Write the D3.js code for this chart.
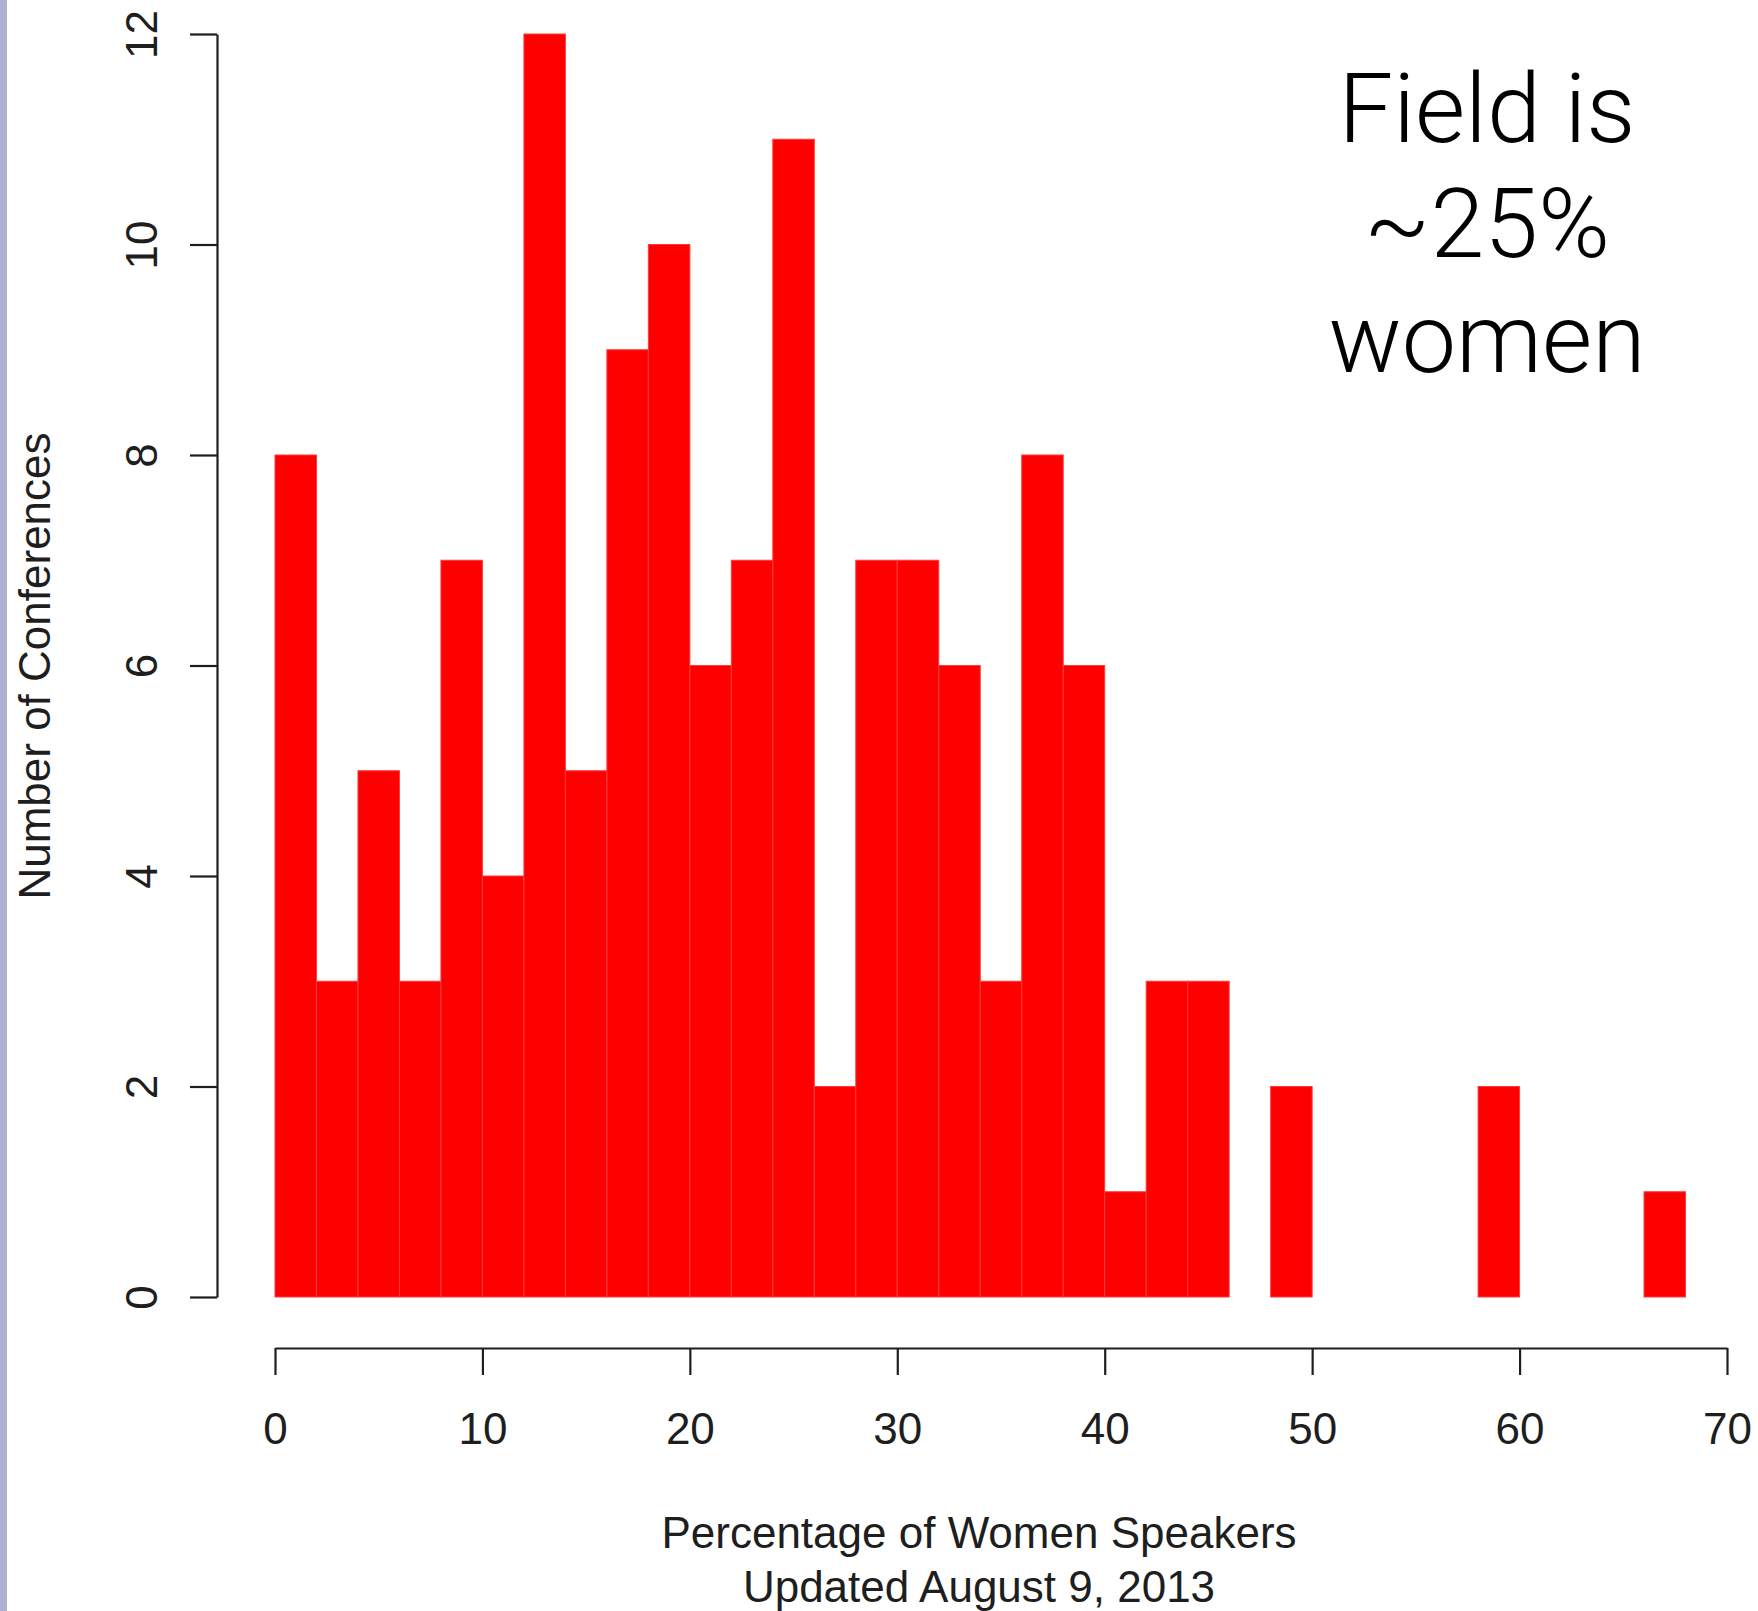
<!DOCTYPE html>
<html>
<head>
<meta charset="utf-8">
<script src="https://cdn.jsdelivr.net/npm/d3@7"></script>
<style>
  html, body { margin: 0; padding: 0; background: #fff; }
  svg { display: block; }
</style>
</head>
<body>
<svg id="chart" width="1758" height="1611"></svg>
<script>
// ---- data ----
const binStarts = [0,2,4,6,8,10,12,14,16,18,20,22,24,26,28,30,32,34,36,38,40,42,44,46,48,50,52,54,56,58,60,62,64,66];
const counts    = [8,3,5,3,7,4,12,5,9,10,6,7,11,2,7,7,6,3,8,6,1,3,3,0,2,0,0,0,0,2,0,0,0,1];
const binWidth = 2;
const xTicks = [0,10,20,30,40,50,60,70];
const yTicks = [0,2,4,6,8,10,12];
const xTitle = ["Percentage of Women Speakers", "Updated August 9, 2013"];
const yTitle = "Number of Conferences";
const note = ["Field is", "~25%", "women"];

// ---- drawing ----
const svg = d3.select("#chart");
const W = 1758, H = 1611;
svg.append("rect").attr("x",0).attr("y",0).attr("width",W).attr("height",H).attr("fill","#ffffff");
svg.append("rect").attr("x",0).attr("y",0).attr("width",7).attr("height",H).attr("fill","#adafd3");

const x = d3.scaleLinear().domain([0,70]).range([275,1727]);
const y = d3.scaleLinear().domain([0,12]).range([1297,34]);

const fontR = "'Liberation Sans', Arial, Helvetica, sans-serif";
const ink = "#1e1e1e";

// bars
const bins = binStarts.map((s,i)=>({x0:s, x1:s+binWidth, n:counts[i]})).filter(d=>d.n>0);
svg.append("g").selectAll("rect").data(bins).join("rect")
  .attr("x", d=>x(d.x0))
  .attr("y", d=>y(d.n))
  .attr("width", d=>x(d.x1)-x(d.x0))
  .attr("height", d=>y(0)-y(d.n))
  .attr("fill", "#ff0000")
  .attr("stroke", "#ff3a3a")
  .attr("stroke-width", 1);

// x axis
const gx = svg.append("g").attr("transform","translate(0,1348)")
  .call(d3.axisBottom(x).tickValues(xTicks).tickSize(27).tickSizeOuter(0).tickFormat(d3.format("d")));
gx.selectAll("path, line").attr("stroke", ink).attr("stroke-width", 2.2);
gx.selectAll("text").attr("y", 96).attr("dy", 0)
  .attr("fill", ink).style("font-family", fontR).style("font-size","44px");

// y axis
const gy = svg.append("g").attr("transform","translate(217,0)")
  .call(d3.axisLeft(y).tickValues(yTicks).tickSize(27).tickSizeOuter(0).tickFormat(d3.format("d")));
gy.selectAll("path, line").attr("stroke", ink).attr("stroke-width", 2.2);
gy.selectAll("text")
  .attr("x", 0).attr("y", 0).attr("dy", 0)
  .attr("transform", "translate(-60,0) rotate(-90)")
  .attr("text-anchor", "middle")
  .attr("fill", ink).style("font-family", fontR).style("font-size","44px");

// axis titles
svg.append("g").selectAll("text").data(xTitle).join("text")
  .attr("x", 979).attr("y", (d,i)=>1548 + i*54)
  .attr("text-anchor","middle")
  .attr("fill", ink).style("font-family", fontR).style("font-size","44px")
  .text(d=>d);

svg.append("text")
  .attr("transform","translate(50,666) rotate(-90)")
  .attr("text-anchor","middle")
  .attr("fill", ink).style("font-family", fontR).style("font-size","44px")
  .text(yTitle);

// annotation
svg.append("g").selectAll("text").data(note).join("text")
  .attr("x", 1487).attr("y", (d,i)=>142 + i*115)
  .attr("text-anchor","middle")
  .attr("fill", "#000")
  .style("font-family", "Roboto, 'Helvetica Neue', Helvetica, sans-serif")
  .style("font-weight", 300)
  .style("font-size","97px")
  .text(d=>d);
</script>
</body>
</html>
